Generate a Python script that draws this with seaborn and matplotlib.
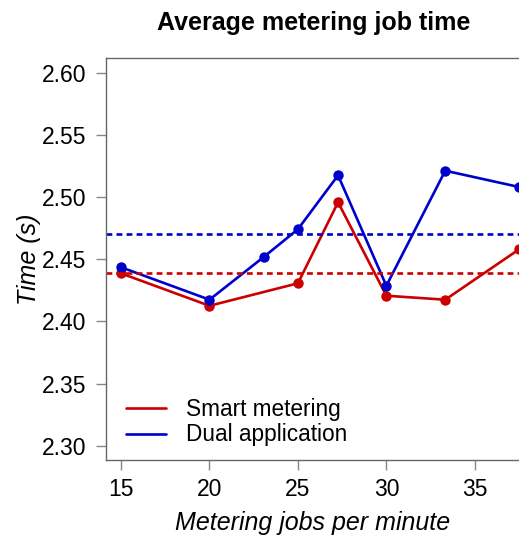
import numpy as np
import pandas as pd
import matplotlib
matplotlib.use("Agg")
import matplotlib.pyplot as plt
from matplotlib.lines import Line2D
import seaborn as sns

# Jobs per minute and average job times (s)
smart_x = [15, 20, 25, 27.27, 30, 33.33, 37.5]
smart_y = [2.4387, 2.4126, 2.4307, 2.4959, 2.4207, 2.4175, 2.4580]
dual_x = [15, 20, 23.08, 25, 27.27, 30, 33.33, 37.5]
dual_y = [2.4436, 2.4175, 2.4520, 2.4742, 2.5176, 2.4287, 2.5213, 2.5082]
series_names = ["Smart metering", "Dual application"]
x_ticks = [15, 20, 25, 30, 35]
y_ticks = [2.30, 2.35, 2.40, 2.45, 2.50, 2.55, 2.60]

RED = "#CC0000"
BLUE = "#0000CC"

sns.set_style("ticks")
plt.rcParams["font.family"] = ["Liberation Sans", "DejaVu Sans"]
plt.rcParams["text.color"] = "black"
plt.rcParams["axes.labelcolor"] = "black"

df = pd.concat([
    pd.DataFrame({"jobs": smart_x, "time": smart_y, "series": series_names[0]}),
    pd.DataFrame({"jobs": dual_x, "time": dual_y, "series": series_names[1]}),
])

fig = plt.figure(figsize=(5.19, 5.36), dpi=100)
ax = fig.add_axes([106 / 519, 1 - 460 / 536, 1 - 106 / 519, (460 - 58) / 536])

sns.lineplot(data=df, x="jobs", y="time", hue="series", hue_order=series_names,
             palette=[RED, BLUE], marker="o", markersize=7.5, markeredgewidth=0,
             linewidth=1.9, ax=ax, legend=False)

# Mean level of each series
for ys, c in ((smart_y, RED), (dual_y, BLUE)):
    ax.axhline(np.mean(ys), color=c, linewidth=1.9, linestyle=(0, (2.2, 1.6)))

ax.set_xlim(14.15, 37.5)
ax.set_ylim(2.2885, 2.612)
ax.set_xticks(x_ticks)
ax.set_yticks(y_ticks)
ax.set_yticklabels([f"{v:.2f}" for v in y_ticks])
ax.tick_params(axis="both", labelsize=16.5, length=7, width=1, color="#888888",
               direction="out", labelcolor="black")
ax.tick_params(axis="y", pad=7)
ax.tick_params(axis="x", pad=6)

for side in ("left", "bottom", "top"):
    ax.spines[side].set_color("#666666")
    ax.spines[side].set_linewidth(1.0)
ax.spines["right"].set_visible(False)

ax.set_xlabel("Metering jobs per minute", fontsize=18, style="italic", labelpad=7)
ax.set_ylabel("Time (s)", fontsize=18, style="italic", labelpad=1)
fig.text(314 / 519, 1 - 23 / 536, "Average metering job time", ha="center", va="center",
         fontsize=18, fontweight="bold")

handles = [Line2D([], [], color=RED, linewidth=1.9), Line2D([], [], color=BLUE, linewidth=1.9)]
ax.legend(handles, series_names, loc="lower left", bbox_to_anchor=(0.0, -0.017),
          frameon=False, fontsize=16.3, handlelength=1.75, handletextpad=0.9,
          labelspacing=0.1, borderaxespad=0.5)

fig.savefig("out.png", dpi=100)
